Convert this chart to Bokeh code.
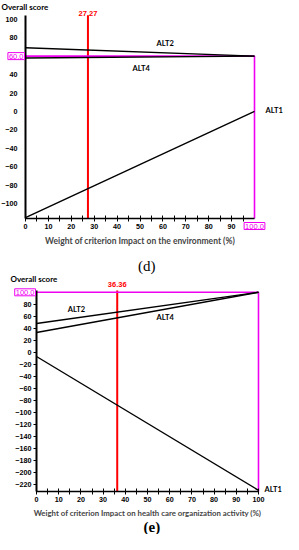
from bokeh.plotting import figure
from bokeh.models import Range1d, FixedTicker, Label, LinearAxis
from bokeh.layouts import column
from bokeh.embed import file_html
from bokeh.resources import INLINE

# ---------------- data ----------------
weights_d = [0, 100]
alt1_d = [-115, 0]
alt2_d = [69, 60]
alt4_d = [58, 60]
threshold_d = 27.27
best_score_d = 60.0
best_weight_d = 100.0
y_bounds_d = (-116, 104)

weights_e = [0, 100]
alt1_e = [-7, -230]
alt2_e = [48, 100]
alt4_e = [33, 100]
threshold_e = 36.36
best_score_e = 100.0
best_weight_e = 100.0
y_bounds_e = (-232, 103)

x_ticks_d = [0, 10, 20, 30, 40, 50, 60, 70, 80, 90]
x_ticks_e = [0, 10, 20, 30, 40, 50, 60, 70, 80, 90, 100]
x_minor = [5, 15, 25, 35, 45, 55, 65, 75, 85, 95]
y_ticks_d = [-100, -80, -60, -40, -20, 0, 20, 40, 80, 100]
y_ticks_e = [-220, -200, -180, -160, -140, -120, -100, -80, -60, -40, -20, 0, 20, 40, 60, 80]

xlabel_d = "Weight of criterion Impact on the environment (%)"
xlabel_e = "Weight of criterion Impact on health care organization activity (%)"
ylabel = "Overall score"
panel_d = "(d)"
panel_e = "(e)"

MAG = "#f000f0"
RED = "#ff0000"
TICK_FONT = "Liberation Sans"
LAB_FONT = "Lato"


def make_fig(width, height, px_x0, px_x100, px_top, px_bot, ylo, yhi):
    """Frame covers the whole figure; axes sit at fixed locations inside."""
    sx = (px_x100 - px_x0) / 100.0
    sy = (px_bot - px_top) / (yhi - ylo)
    xr = Range1d(0 - px_x0 / sx, 100 + (width - px_x100) / sx)
    yr = Range1d(ylo - (height - px_bot) / sy, yhi + px_top / sy)
    p = figure(width=width, height=height, output_backend="svg",
               toolbar_location=None, x_range=xr, y_range=yr,
               x_axis_location=None, y_axis_location=None)
    p.min_border = 0
    p.min_border_left = 0
    p.min_border_right = 0
    p.min_border_top = 0
    p.min_border_bottom = 0
    p.outline_line_color = None
    p.grid.visible = False
    p.background_fill_color = "white"
    p.border_fill_color = "white"

    xa = LinearAxis(fixed_location=ylo, bounds=(0, 100))
    ya = LinearAxis(fixed_location=0, bounds=(ylo, yhi))
    for ax in (xa, ya):
        ax.axis_line_color = "black"
        ax.major_tick_line_color = "black"
        ax.minor_tick_line_color = "black"
        ax.major_label_text_font = TICK_FONT
        ax.major_label_text_font_style = "bold"
        ax.major_label_text_font_size = "7.2px"
        ax.major_label_text_color = "black"
    xa.axis_line_width = 1.5
    ya.axis_line_width = 2
    xa.major_tick_in = 3
    xa.major_tick_out = 3
    xa.minor_tick_in = 3
    xa.minor_tick_out = 3
    xa.major_label_standoff = 2
    xa.axis_label_text_font = LAB_FONT
    xa.axis_label_text_font_style = "bold"
    xa.axis_label_text_font_size = "8.5px"
    xa.axis_label_standoff = 4
    ya.major_label_standoff = 2
    p.add_layout(xa, "below")
    p.add_layout(ya, "left")
    return p, xa, ya


def txt(p, x, y, s, **kw):
    opts = dict(text_font=LAB_FONT, text_font_style="bold",
                text_font_size="7.5px", text_color="black",
                text_align="center", text_baseline="middle")
    opts.update(kw)
    p.add_layout(Label(x=x, y=y, text=s, **opts))


def boxed(p, x, y, s, **kw):
    opts = dict(text_font=TICK_FONT, text_font_size="7.5px", text_color=MAG,
                border_line_color=MAG, border_line_width=1,
                background_fill_color="white", padding=1)
    opts.update(kw)
    p.add_layout(Label(x=x, y=y, text=s, **opts))


# ---------------- chart (d) ----------------
ylo, yhi = y_bounds_d
pd_, xa, ya = make_fig(283, 275, 25, 254, 15, 218, ylo, yhi)
xa.ticker = FixedTicker(ticks=x_ticks_d, minor_ticks=x_minor)
ya.ticker = FixedTicker(ticks=y_ticks_d)
ya.major_tick_line_color = None
ya.minor_tick_line_color = None
xa.axis_label = xlabel_d

pd_.line([threshold_d, threshold_d], [ylo, yhi], line_color=RED, line_width=2)
pd_.line([0, best_weight_d], [best_score_d, best_score_d], line_color=MAG, line_width=1.6)
pd_.line([best_weight_d, best_weight_d], [best_score_d, ylo], line_color=MAG, line_width=1.6)
pd_.line(weights_d, alt2_d, line_color="black", line_width=1.4)
pd_.line(weights_d, alt4_d, line_color="black", line_width=1.4)
pd_.line(weights_d, alt1_d, line_color="black", line_width=1.4)

txt(pd_, 61, 74, "ALT2")
txt(pd_, 50.5, 47, "ALT4")
txt(pd_, best_weight_d, 1, "ALT1", text_align="left", x_offset=11)
txt(pd_, 0, yhi, ylabel, text_align="left", text_baseline="bottom",
    x_offset=-24, y_offset=4, text_font_size="8px")
txt(pd_, threshold_d, yhi, f"{threshold_d:.2f}", text_baseline="bottom",
    y_offset=0, text_color=RED, text_font=TICK_FONT)
boxed(pd_, 0, best_score_d, f"{best_score_d:.1f}", text_align="right",
      text_baseline="middle", x_offset=-1)
boxed(pd_, best_weight_d, ylo, f"{best_weight_d:.1f}", text_align="center",
      text_baseline="top", y_offset=-4)
txt(pd_, 53, ylo, panel_d, y_offset=-47, text_font="Liberation Serif",
    text_font_style="normal", text_font_size="15px")

# ---------------- chart (e) ----------------
ylo, yhi = y_bounds_e
pe, xa, ya = make_fig(283, 259, 36, 258, 15, 216, ylo, yhi)
xa.ticker = FixedTicker(ticks=x_ticks_e, minor_ticks=x_minor)
ya.ticker = FixedTicker(ticks=y_ticks_e)
ya.major_tick_in = 0
ya.major_tick_out = 3
ya.minor_tick_line_color = None
xa.axis_label = xlabel_e
xa.axis_label_text_font_size = "7.8px"
xa.axis_label_standoff = 3

pe.line([threshold_e, threshold_e], [ylo, yhi], line_color=RED, line_width=2)
pe.line([0, best_weight_e], [best_score_e, best_score_e], line_color=MAG, line_width=1.6)
pe.line([best_weight_e, best_weight_e], [best_score_e, ylo], line_color=MAG, line_width=1.6)
pe.line(weights_e, alt2_e, line_color="black", line_width=1.4)
pe.line(weights_e, alt4_e, line_color="black", line_width=1.4)
pe.line(weights_e, alt1_e, line_color="black", line_width=1.4)

txt(pe, 18, 71, "ALT2")
txt(pe, 58, 58, "ALT4")
txt(pe, best_weight_e, -228, "ALT1", text_align="left", x_offset=6)
txt(pe, 0, yhi, ylabel, text_align="left", text_baseline="bottom",
    x_offset=-26, y_offset=7, text_font_size="8px")
txt(pe, threshold_e, yhi, f"{threshold_e:.2f}", text_baseline="bottom",
    y_offset=4, text_color=RED, text_font=TICK_FONT)
boxed(pe, 0, best_score_e, f"{best_score_e:.1f}", text_align="right",
      text_baseline="middle", x_offset=-1)
txt(pe, 52, ylo, panel_e, y_offset=-35, text_font="Liberation Serif",
    text_font_style="bold", text_font_size="15px")

layout = column(pd_, pe, spacing=0)
open("out.html", "w").write(file_html(layout, INLINE))
